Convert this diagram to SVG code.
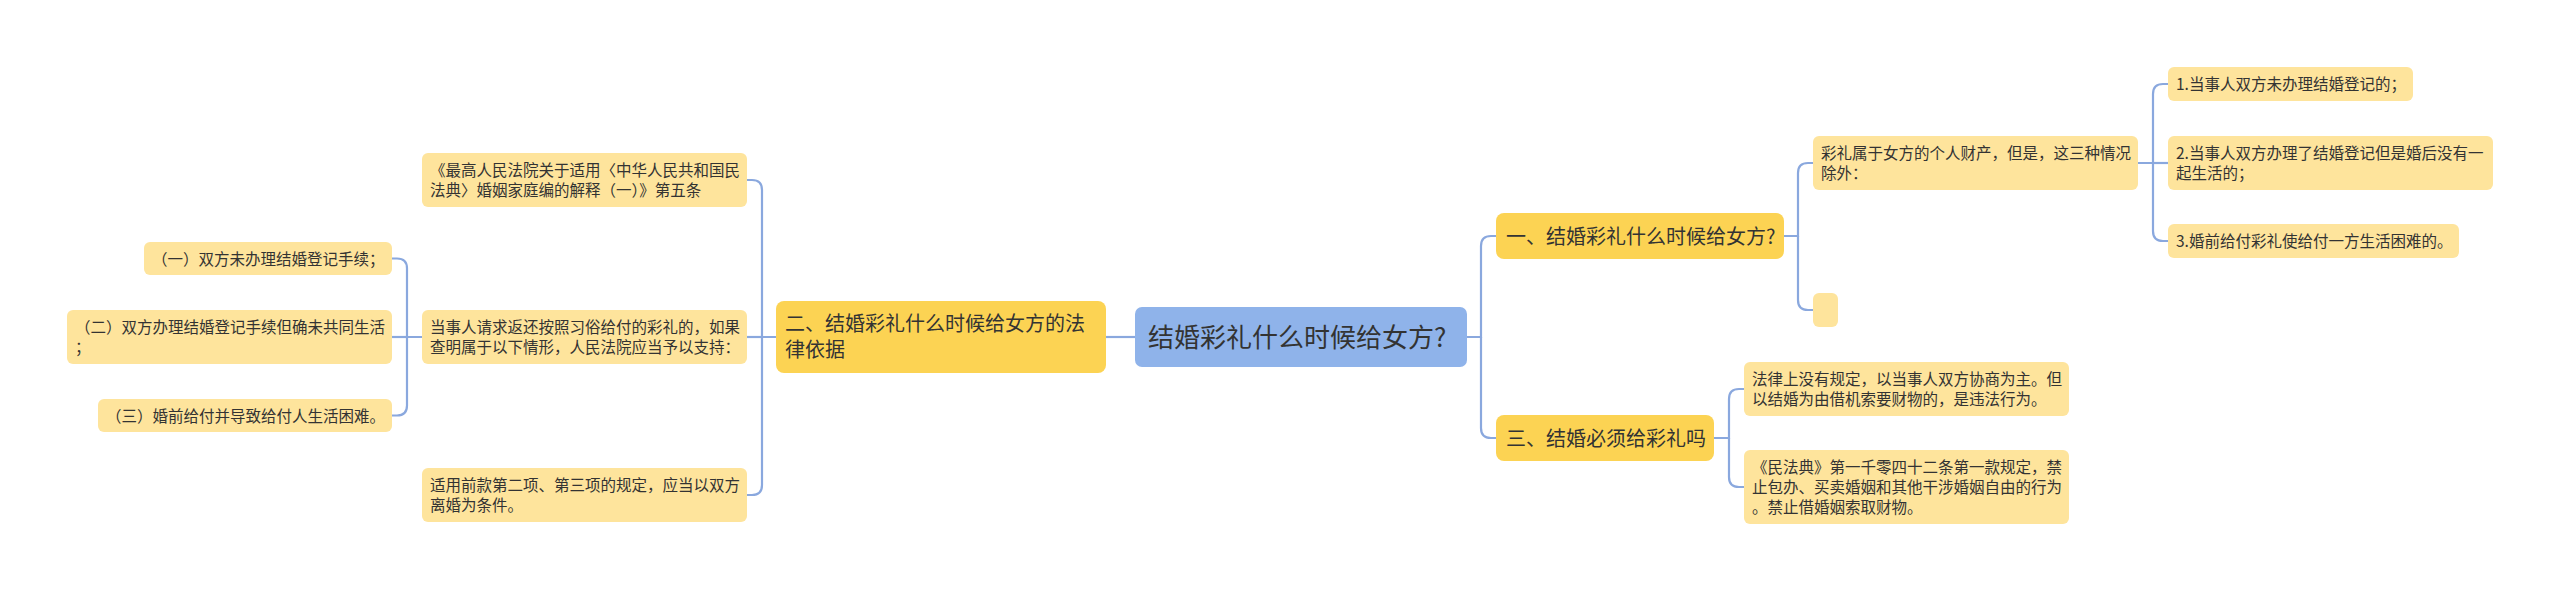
<svg xmlns="http://www.w3.org/2000/svg" width="2560" height="592" viewBox="0 0 2560 592">
<style>
.bg{fill:#ffffff}
.c{fill:none;stroke:#8aa8de;stroke-width:2.2}
.root{fill:#8fb3ea}
.main{fill:#fcd353}
.leaf{fill:#fee49c}
text{font-family:"Noto Sans CJK SC","Noto Sans",sans-serif;fill:#333333}
.t26{font-size:26px}
.t20{font-size:20px}
.t15{font-size:15.5px}
</style>
<rect class="bg" x="0" y="0" width="2560" height="592"/>
<g id="connectors">
<path class="c" d="M1135,337 H1106"/>
<path class="c" d="M1467,337 H1481 V246 Q1481,236 1491,236 H1496"/>
<path class="c" d="M1481,337 V428 Q1481,438 1491,438 H1496"/>
<path class="c" d="M776,337 H762 V190 Q762,180 752,180 H747"/>
<path class="c" d="M762,337 H747"/>
<path class="c" d="M762,337 V485 Q762,495 752,495 H747"/>
<path class="c" d="M422,337 H407 V268.5 Q407,258.5 397,258.5 H392"/>
<path class="c" d="M407,337 H392"/>
<path class="c" d="M407,337 V405.5 Q407,415.5 397,415.5 H392"/>
<path class="c" d="M1784,236 H1798 V173 Q1798,163 1808,163 H1813"/>
<path class="c" d="M1798,236 V300 Q1798,310 1808,310 H1813"/>
<path class="c" d="M2138,163 H2153 V94 Q2153,84 2163,84 H2168"/>
<path class="c" d="M2153,163 H2168"/>
<path class="c" d="M2153,163 V231 Q2153,241 2163,241 H2168"/>
<path class="c" d="M1714,438 H1729 V399 Q1729,389 1739,389 H1744"/>
<path class="c" d="M1729,438 V477 Q1729,487 1739,487 H1744"/>
</g>
<g id="root">
<rect class="root" x="1135" y="307" width="332" height="60" rx="7"/>
<text class="t26" x="1148" y="347">结婚彩礼什么时候给女方?</text>
</g>
<g id="n2">
<rect class="main" x="776" y="301" width="330" height="72" rx="8"/>
<text class="t20" x="785" y="331">二、结婚彩礼什么时候给女方的法</text>
<text class="t20" x="785" y="357">律依据</text>
</g>
<g id="n2a">
<rect class="leaf" x="422" y="153" width="325" height="54" rx="6"/>
<text class="t15" x="430" y="176">《最高人民法院关于适用〈中华人民共和国民</text>
<text class="t15" x="430" y="196">法典〉婚姻家庭编的解释（一）》第五条</text>
</g>
<g id="n2b">
<rect class="leaf" x="422" y="310" width="325" height="54" rx="6"/>
<text class="t15" x="430" y="333">当事人请求返还按照习俗给付的彩礼的，如果</text>
<text class="t15" x="430" y="353">查明属于以下情形，人民法院应当予以支持：</text>
</g>
<g id="n2c">
<rect class="leaf" x="422" y="468" width="325" height="54" rx="6"/>
<text class="t15" x="430" y="491">适用前款第二项、第三项的规定，应当以双方</text>
<text class="t15" x="430" y="511">离婚为条件。</text>
</g>
<g id="n2b1">
<rect class="leaf" x="144" y="242" width="248" height="33" rx="6"/>
<text class="t15" x="152" y="265">（一）双方未办理结婚登记手续；</text>
</g>
<g id="n2b2">
<rect class="leaf" x="67" y="310" width="325" height="54" rx="6"/>
<text class="t15" x="75" y="333">（二）双方办理结婚登记手续但确未共同生活</text>
<text class="t15" x="75" y="353">；</text>
</g>
<g id="n2b3">
<rect class="leaf" x="98" y="399" width="294" height="33" rx="6"/>
<text class="t15" x="106" y="422">（三）婚前给付并导致给付人生活困难。</text>
</g>
<g id="n1">
<rect class="main" x="1496" y="213" width="288" height="46" rx="8"/>
<text class="t20" x="1506" y="244">一、结婚彩礼什么时候给女方?</text>
</g>
<g id="n1a">
<rect class="leaf" x="1813" y="136" width="325" height="54" rx="6"/>
<text class="t15" x="1821" y="159">彩礼属于女方的个人财产，但是，这三种情况</text>
<text class="t15" x="1821" y="179">除外：</text>
</g>
<g id="n1b">
<rect class="leaf" x="1813" y="293" width="25" height="34" rx="6"/>
</g>
<g id="n1a1">
<rect class="leaf" x="2168" y="67" width="245" height="34" rx="6"/>
<text class="t15" x="2176" y="90">1.当事人双方未办理结婚登记的；</text>
</g>
<g id="n1a2">
<rect class="leaf" x="2168" y="136" width="325" height="54" rx="6"/>
<text class="t15" x="2176" y="159">2.当事人双方办理了结婚登记但是婚后没有一</text>
<text class="t15" x="2176" y="179">起生活的；</text>
</g>
<g id="n1a3">
<rect class="leaf" x="2168" y="224" width="291" height="34" rx="6"/>
<text class="t15" x="2176" y="247">3.婚前给付彩礼使给付一方生活困难的。</text>
</g>
<g id="n3">
<rect class="main" x="1496" y="415" width="218" height="46" rx="8"/>
<text class="t20" x="1506" y="446">三、结婚必须给彩礼吗</text>
</g>
<g id="n3a">
<rect class="leaf" x="1744" y="362" width="325" height="54" rx="6"/>
<text class="t15" x="1752" y="385">法律上没有规定，以当事人双方协商为主。但</text>
<text class="t15" x="1752" y="405">以结婚为由借机索要财物的，是违法行为。</text>
</g>
<g id="n3b">
<rect class="leaf" x="1744" y="450" width="325" height="74" rx="6"/>
<text class="t15" x="1752" y="473">《民法典》第一千零四十二条第一款规定，禁</text>
<text class="t15" x="1752" y="493">止包办、买卖婚姻和其他干涉婚姻自由的行为</text>
<text class="t15" x="1752" y="513">。禁止借婚姻索取财物。</text>
</g>
</svg>
